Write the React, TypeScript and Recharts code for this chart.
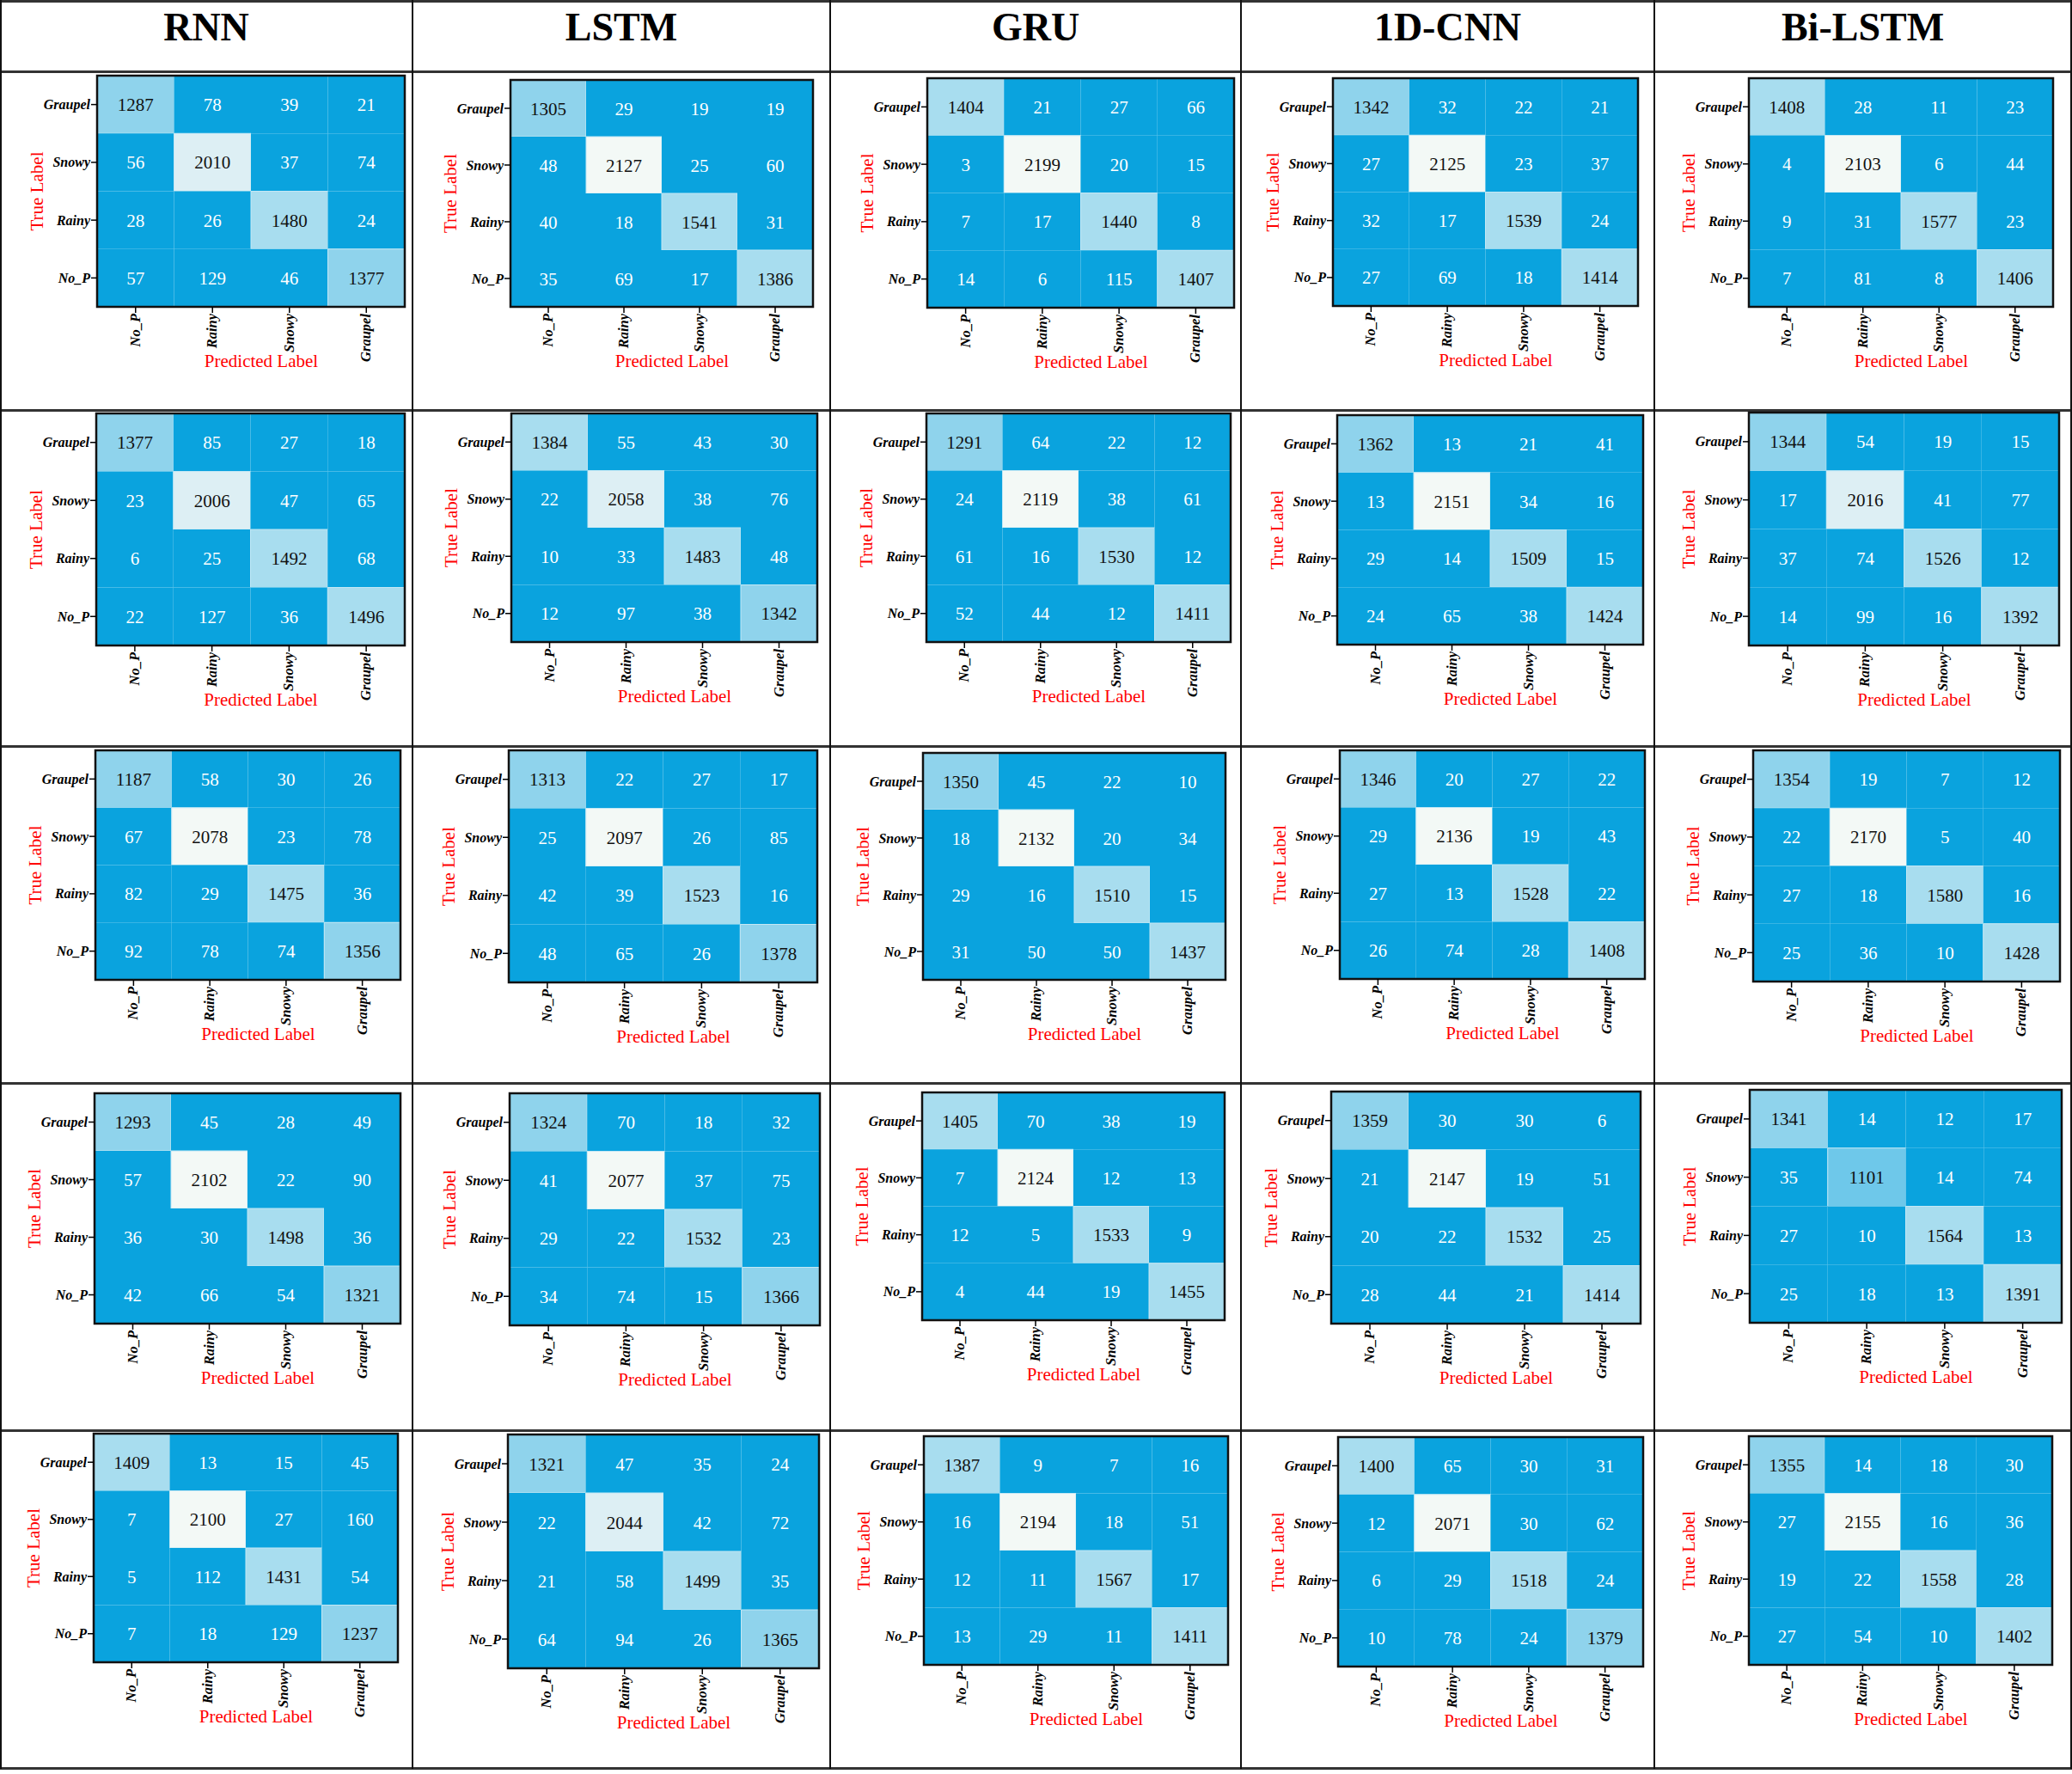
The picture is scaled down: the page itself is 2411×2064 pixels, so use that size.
import React from 'react';
import { ScatterChart, Scatter, XAxis, YAxis, ReferenceArea } from 'recharts';

// rows: true label (Graupel, Snowy, Rainy, No_P), cols: predicted (No_P, Rainy, Snowy, Graupel)
const predLabels = ['No_P', 'Rainy', 'Snowy', 'Graupel'];
const trueLabels = ['Graupel', 'Snowy', 'Rainy', 'No_P'];
const models = ['RNN', 'LSTM', 'GRU', '1D-CNN', 'Bi-LSTM'];

const rnnRuns = [
  [[1287, 78, 39, 21], [56, 2010, 37, 74], [28, 26, 1480, 24], [57, 129, 46, 1377]],
  [[1377, 85, 27, 18], [23, 2006, 47, 65], [6, 25, 1492, 68], [22, 127, 36, 1496]],
  [[1187, 58, 30, 26], [67, 2078, 23, 78], [82, 29, 1475, 36], [92, 78, 74, 1356]],
  [[1293, 45, 28, 49], [57, 2102, 22, 90], [36, 30, 1498, 36], [42, 66, 54, 1321]],
  [[1409, 13, 15, 45], [7, 2100, 27, 160], [5, 112, 1431, 54], [7, 18, 129, 1237]],
];

const lstmRuns = [
  [[1305, 29, 19, 19], [48, 2127, 25, 60], [40, 18, 1541, 31], [35, 69, 17, 1386]],
  [[1384, 55, 43, 30], [22, 2058, 38, 76], [10, 33, 1483, 48], [12, 97, 38, 1342]],
  [[1313, 22, 27, 17], [25, 2097, 26, 85], [42, 39, 1523, 16], [48, 65, 26, 1378]],
  [[1324, 70, 18, 32], [41, 2077, 37, 75], [29, 22, 1532, 23], [34, 74, 15, 1366]],
  [[1321, 47, 35, 24], [22, 2044, 42, 72], [21, 58, 1499, 35], [64, 94, 26, 1365]],
];

const gruRuns = [
  [[1404, 21, 27, 66], [3, 2199, 20, 15], [7, 17, 1440, 8], [14, 6, 115, 1407]],
  [[1291, 64, 22, 12], [24, 2119, 38, 61], [61, 16, 1530, 12], [52, 44, 12, 1411]],
  [[1350, 45, 22, 10], [18, 2132, 20, 34], [29, 16, 1510, 15], [31, 50, 50, 1437]],
  [[1405, 70, 38, 19], [7, 2124, 12, 13], [12, 5, 1533, 9], [4, 44, 19, 1455]],
  [[1387, 9, 7, 16], [16, 2194, 18, 51], [12, 11, 1567, 17], [13, 29, 11, 1411]],
];

const cnnRuns = [
  [[1342, 32, 22, 21], [27, 2125, 23, 37], [32, 17, 1539, 24], [27, 69, 18, 1414]],
  [[1362, 13, 21, 41], [13, 2151, 34, 16], [29, 14, 1509, 15], [24, 65, 38, 1424]],
  [[1346, 20, 27, 22], [29, 2136, 19, 43], [27, 13, 1528, 22], [26, 74, 28, 1408]],
  [[1359, 30, 30, 6], [21, 2147, 19, 51], [20, 22, 1532, 25], [28, 44, 21, 1414]],
  [[1400, 65, 30, 31], [12, 2071, 30, 62], [6, 29, 1518, 24], [10, 78, 24, 1379]],
];

const biLstmRuns = [
  [[1408, 28, 11, 23], [4, 2103, 6, 44], [9, 31, 1577, 23], [7, 81, 8, 1406]],
  [[1344, 54, 19, 15], [17, 2016, 41, 77], [37, 74, 1526, 12], [14, 99, 16, 1392]],
  [[1354, 19, 7, 12], [22, 2170, 5, 40], [27, 18, 1580, 16], [25, 36, 10, 1428]],
  [[1341, 14, 12, 17], [35, 1101, 14, 74], [27, 10, 1564, 13], [25, 18, 13, 1391]],
  [[1355, 14, 18, 30], [27, 2155, 16, 36], [19, 22, 1558, 28], [27, 54, 10, 1402]],
];

const runsByModel = [rnnRuns, lstmRuns, gruRuns, cnnRuns, biLstmRuns];

// plot area boxes [left, top, width, height] per row, per model column
const plotBoxes = [
  [[113, 88, 358, 269], [594, 93, 352, 264], [1079, 91, 357, 267], [1551, 91, 355, 265], [2035, 91, 354, 266]],
  [[112, 481, 359, 270], [595, 481, 356, 266], [1078, 481, 354, 266], [1556, 483, 356, 267], [2035, 480, 361, 271]],
  [[111, 873, 355, 267], [592, 873, 359, 270], [1074, 876, 352, 264], [1559, 873, 355, 266], [2040, 873, 357, 269]],
  [[110, 1272, 356, 268], [593, 1272, 361, 270], [1073, 1271, 352, 265], [1549, 1270, 360, 270], [2036, 1268, 363, 271]],
  [[109, 1668, 354, 266], [591, 1669, 362, 272], [1075, 1671, 354, 266], [1557, 1672, 355, 267], [2035, 1671, 353, 266]],
];

const colEdges = [0, 480, 966, 1444, 1925, 2410];
const rowEdges = [1, 83, 477, 868, 1260, 1664, 2057];

const FONT = '"Liberation Serif", "Times New Roman", serif';
const TICKS = [0.5, 1.5, 2.5, 3.5];

function cellColor(v: number) {
  if (v < 200) return '#0aa3de';
  if (v < 1150) return '#6ec8ea';
  if (v < 1382) return '#8fd3ec';
  if (v < 1700) return '#a8ddef';
  if (v < 2065) return '#ddeff4';
  return '#f3f9f6';
}

const XTick = (props: any) => {
  const { x, y, payload } = props;
  return (
    <text x={x} y={y} dy={5} transform={`rotate(-90, ${x}, ${y})`} textAnchor="end"
      fontFamily={FONT} fontWeight="bold" fontStyle="italic" fontSize={16.5} fill="#000">
      {predLabels[Math.floor(payload.value)]}
    </text>
  );
};

const YTick = (props: any) => {
  const { x, y, payload } = props;
  return (
    <text x={x} y={y} dy="0.35em" textAnchor="end"
      fontFamily={FONT} fontWeight="bold" fontStyle="italic" fontSize={16} fill="#000">
      {trueLabels[Math.floor(payload.value)]}
    </text>
  );
};

function Matrix({ matrix, box }: { matrix: number[][]; box: number[] }) {
  const [px, py, pw, ph] = box;
  const ML = 100, MT = 4, MR = 4, MB = 100;
  const cells = matrix.flatMap((row, r) =>
    row.map((v, c) => ({ x: c + 0.5, y: r + 0.5, r, c, v, diag: r === c }))
  );
  const predLabel = () => (
    <text x={ML + pw / 2 + 12} y={MT + ph + 70} textAnchor="middle" fontFamily={FONT} fontSize={21} fill="#ff0000">
      Predicted Label
    </text>
  );
  const trueLabel = () => {
    const cx = ML - 70, cy = MT + ph / 2;
    return (
      <text x={cx} y={cy} dy="0.35em" transform={`rotate(-90, ${cx}, ${cy})`} textAnchor="middle"
        fontFamily={FONT} fontSize={21} fill="#ff0000">
        True Label
      </text>
    );
  };
  return (
    <div style={{ position: 'absolute', left: px - ML, top: py - MT }}>
      <ScatterChart width={pw + ML + MR} height={ph + MT + MB} margin={{ top: MT, right: MR, bottom: 0, left: 0 }}>
        <XAxis type="number" dataKey="x" domain={[0, 4]} ticks={TICKS} interval={0} height={MB}
          axisLine={false} tickLine={{ stroke: '#000', strokeWidth: 1.5 }} tickSize={7} tickMargin={1}
          tick={<XTick />} label={predLabel} allowDataOverflow />
        <YAxis type="number" dataKey="y" domain={[0, 4]} ticks={TICKS} interval={0} width={ML} reversed
          axisLine={false} tickLine={{ stroke: '#000', strokeWidth: 1.5 }} tickSize={7} tickMargin={1}
          tick={<YTick />} label={trueLabel} allowDataOverflow />
        {cells.map((d) => (
          <ReferenceArea key={`${d.r}-${d.c}`} x1={d.c} x2={d.c + 1} y1={d.r} y2={d.r + 1}
            fill={cellColor(d.v)} fillOpacity={1}
            stroke={d.diag ? '#c4e8f5' : 'none'} strokeWidth={1} />
        ))}
        <ReferenceArea x1={0} x2={4} y1={0} y2={4} fill="none" stroke="#111" strokeWidth={2.5} />
        <Scatter data={cells} isAnimationActive={false}
          shape={(p: any) => (
            <text x={p.cx} y={p.cy} dy="0.36em" textAnchor="middle" fontFamily={FONT} fontSize={21}
              fill={p.payload.diag ? '#111' : '#ffffff'}>
              {p.payload.v}
            </text>
          )} />
      </ScatterChart>
    </div>
  );
}

export default function App() {
  return (
    <div style={{ position: 'absolute', left: 0, top: 0, width: 2411, height: 2064, background: '#fff', fontFamily: FONT }}>
      {models.map((m, i) => (
        <div key={m} style={{
          position: 'absolute', left: colEdges[i], width: colEdges[i + 1] - colEdges[i], top: 6,
          textAlign: 'center', fontSize: 46, lineHeight: '52px', fontWeight: 'bold', color: '#000',
        }}>{m}</div>
      ))}
      {rowEdges.map((y, i) => (
        <div key={`h${i}`} style={{ position: 'absolute', left: 0, top: y - 1, width: 2411, height: 3, background: '#333' }} />
      ))}
      {colEdges.map((x, i) => (
        <div key={`v${i}`} style={{ position: 'absolute', left: Math.max(0, x - 1), top: 0, width: 2, height: 2058, background: '#111' }} />
      ))}
      {plotBoxes.map((row, r) =>
        row.map((box, c) => <Matrix key={`${r}-${c}`} matrix={runsByModel[c][r]} box={box} />)
      )}
    </div>
  );
}
